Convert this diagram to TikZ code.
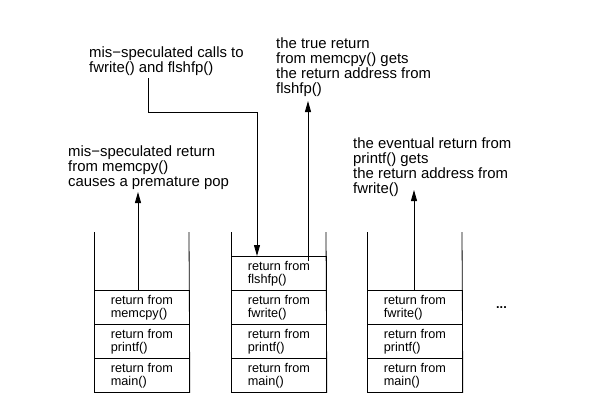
\documentclass[tikz,border=0pt]{standalone}
\usepackage{fontspec}
\setmainfont{Liberation Sans}
\usetikzlibrary{arrows.meta}
\begin{document}
\begin{tikzpicture}[x=1pt,y=-1pt,
  lab/.style={anchor=north west,inner sep=0pt,align=left,font=\fontsize{14.9}{15}\selectfont},
  cell/.style={draw,line width=0.8pt,minimum width=95pt,minimum height=34pt,inner sep=0pt,align=left,font=\fontsize{12.7}{13}\selectfont,anchor=north west},
  wall/.style={line width=0.8pt},
  arr/.style={line width=0.8pt,-{Triangle[length=11pt,width=6pt]}}]
\useasboundingbox (0,0) rectangle (596,405);

% labels
\node[lab] (labcalls) at (89,46) {mis−speculated calls to\\fwrite() and flshfp()};
\node[lab] (labtrue) at (276,37) {the true return\\from memcpy() gets\\the return address from\\flshfp()};
\node[lab] (labmis) at (68,145) {mis−speculated return\\from memcpy()\\causes a premature pop};
\node[lab] (labev) at (353,137) {the eventual return from\\printf() gets\\the return address from\\fwrite()};

% stack 1
\node[cell] (s1a) at (94,290) {return from\\memcpy()};
\node[cell] (s1b) at (94,324) {return from\\printf()};
\node[cell] (s1c) at (94,358) {return from\\main()};
\coordinate (s1l) at (94,232);
\coordinate (s1r) at (189,232);
\draw[wall] (s1l) -- (s1c.south west);
\draw[wall] (s1r) -- (s1c.south east);

% stack 2
\node[cell] (s2a) at (231,256) {return from\\flshfp()};
\node[cell] (s2b) at (231,290) {return from\\fwrite()};
\node[cell] (s2c) at (231,324) {return from\\printf()};
\node[cell] (s2d) at (231,358) {return from\\main()};
\coordinate (s2l) at (231,232);
\coordinate (s2r) at (326,232);
\draw[wall] (s2l) -- (s2d.south west);
\draw[wall] (s2r) -- (s2d.south east);

% stack 3
\node[cell] (s3a) at (367,290) {return from\\fwrite()};
\node[cell] (s3b) at (367,324) {return from\\printf()};
\node[cell] (s3c) at (367,358) {return from\\main()};
\coordinate (s3l) at (367,232);
\coordinate (s3r) at (462,232);
\draw[wall] (s3l) -- (s3c.south west);
\draw[wall] (s3r) -- (s3c.south east);

\node[anchor=north west,inner sep=0pt,font=\fontsize{12.7}{13}\selectfont\bfseries] (dots) at (496,306) {...};

% arrows
\coordinate (a1s) at (138,290);
\coordinate (a1t) at (138,192);
\draw[arr] (a1s) -- (a1t);

\coordinate (a2s) at (148,78);
\coordinate (a2m) at (257,112);
\coordinate (a2t) at (257,256);
\draw[arr] (a2s) |- (a2m) -- (a2t);

\coordinate (a3s) at (308,261);
\coordinate (a3t) at (308,101);
\draw[arr] (a3s) -- (a3t);

\coordinate (a4s) at (414,290);
\coordinate (a4t) at (414,190);
\draw[arr] (a4s) -- (a4t);
\end{tikzpicture}
\end{document}
